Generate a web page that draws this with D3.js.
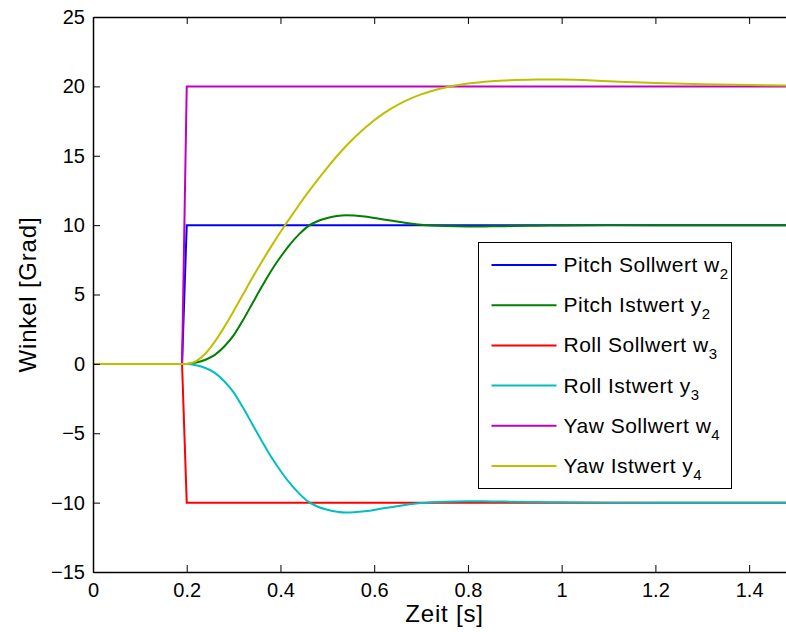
<!DOCTYPE html>
<html>
<head>
<meta charset="utf-8">
<script src="https://cdn.jsdelivr.net/npm/d3@7"></script>
<style>
  body { margin: 0; background: #fff; }
  text { font-family: "Liberation Sans", Arial, Helvetica, sans-serif; fill: #000; }
</style>
</head>
<body>
<div class="container"></div>
<script>
var margin = {top: 17, right: -10, bottom: 60, left: 93}
    , width = 786 - margin.left - margin.right
    , height = 632 - margin.top - margin.bottom;

// DATA
// step setpoints (Sollwerte)
var stepTime = [0, 0.19, 0.2, 1.5]
var w2 = [0, 0, 10, 10]
var w3 = [0, 0, -10, -10]
var w4 = [0, 0, 20, 20]

// responses (Istwerte)
var respTime = [0, 0.2, 0.22, 0.24, 0.26, 0.28, 0.30, 0.32, 0.34, 0.36, 0.38, 0.40, 0.42, 0.44, 0.46, 0.48, 0.50,
                0.54, 0.58, 0.62, 0.66, 0.70, 0.75, 0.80, 0.85, 0.90, 0.95, 1.0, 1.1, 1.2, 1.3, 1.4, 1.5]
var y2 = [0, 0, 0.1, 0.3, 0.65, 1.25, 2.05, 3.15, 4.35, 5.55, 6.7, 7.7, 8.6, 9.35, 9.95, 10.3, 10.52,
          10.72, 10.62, 10.4, 10.2, 10.03, 9.93, 9.9, 9.91, 9.94, 9.96, 9.98, 10.0, 10.0, 10.0, 10.0, 10.0]
var y3 = [0, 0, -0.1, -0.3, -0.65, -1.25, -2.05, -3.15, -4.35, -5.55, -6.7, -7.7, -8.6, -9.35, -9.95, -10.3, -10.52,
          -10.72, -10.62, -10.4, -10.2, -10.03, -9.93, -9.9, -9.91, -9.94, -9.96, -9.98, -10.0, -10.0, -10.0, -10.0, -10.0]
var y4 = [0, 0, 0.2, 0.75, 1.6, 2.65, 3.8, 5.0, 6.2, 7.35, 8.45, 9.5, 10.5, 11.47, 12.41, 13.3, 14.15,
          15.7, 17.0, 18.05, 18.85, 19.42, 19.9, 20.2, 20.37, 20.46, 20.5, 20.49, 20.37, 20.25, 20.16, 20.1, 20.06]

var seriesNames = ['Pitch Sollwert w', 'Pitch Istwert y', 'Roll Sollwert w', 'Roll Istwert y', 'Yaw Sollwert w', 'Yaw Istwert y']
var seriesSubs = ['2', '2', '3', '3', '4', '4']
var seriesColors = ['#0000ff', '#008000', '#ff0000', '#00bfbf', '#bf00bf', '#bfbf00']

var xTicks = [0, 0.2, 0.4, 0.6, 0.8, 1, 1.2, 1.4]
var yTicks = [-15, -10, -5, 0, 5, 10, 15, 20, 25]

// build series table
var series = [
    {t: stepTime, v: w2, smooth: false}
  , {t: respTime, v: y2, smooth: true}
  , {t: stepTime, v: w3, smooth: false}
  , {t: respTime, v: y3, smooth: true}
  , {t: stepTime, v: w4, smooth: false}
  , {t: respTime, v: y4, smooth: true}
]
series.forEach(function(s, i){
  s.name = seriesNames[i]
  s.sub = seriesSubs[i]
  s.color = seriesColors[i]
  s.points = s.t.map(function(t, j){ return [t, s.v[j]] })
})

// SCALES
var x = d3.scaleLinear().domain([0, 1.5]).range([0, width])
var y = d3.scaleLinear().domain([-15, 25]).range([height, 0])

var svg = d3.select('body div.container').append('svg')
    .attr('width', 786)
    .attr('height', 632)

var g = svg.append('g')
    .attr('transform', 'translate(' + margin.left + ',' + margin.top + ')')

g.append('clipPath').attr('id', 'clip')
  .append('rect').attr('width', width).attr('height', height)

// LINES
var lineSharp = d3.line()
    .x(function(d){ return x(d[0]) })
    .y(function(d){ return y(d[1]) })
var lineSmooth = d3.line()
    .curve(d3.curveMonotoneX)
    .x(function(d){ return x(d[0]) })
    .y(function(d){ return y(d[1]) })

g.append('g').attr('clip-path', 'url(#clip)')
  .selectAll('path')
  .data(series)
  .enter().append('path')
    .attr('d', function(d){ return d.smooth ? lineSmooth(d.points) : lineSharp(d.points) })
    .attr('fill', 'none')
    .attr('stroke', function(d){ return d.color })
    .attr('stroke-width', 2)

// AXES
var fmt = d3.format('~g')

var xAxis = g.append('g')
    .attr('transform', 'translate(0,' + height + ')')
    .call(d3.axisBottom(x).tickValues(xTicks).tickFormat(fmt).tickSizeInner(-7).tickSizeOuter(0).tickPadding(11))
var yAxis = g.append('g')
    .call(d3.axisLeft(y).tickValues(yTicks).tickFormat(fmt).tickSizeInner(-7).tickSizeOuter(0).tickPadding(8))
var topAxis = g.append('g')
    .call(d3.axisTop(x).tickValues(xTicks).tickFormat('').tickSizeInner(-7).tickSizeOuter(0))

g.selectAll('.domain').attr('stroke', '#000').attr('stroke-width', 1.5)
g.selectAll('.tick line').attr('stroke', '#000').attr('stroke-width', 1)
g.selectAll('.tick text')
    .attr('fill', '#000')
    .style('font-size', '20px')
    .style('font-family', '"Liberation Sans", Arial, sans-serif')

// AXIS LABELS
g.append('text')
    .attr('x', width / 2)
    .attr('y', height + 50)
    .attr('text-anchor', 'middle')
    .style('font-size', '24px')
    .style('letter-spacing', '0.8px')
    .text('Zeit [s]')

g.append('text')
    .attr('transform', 'translate(' + (-57) + ',' + (height / 2) + ') rotate(-90)')
    .attr('text-anchor', 'middle')
    .style('font-size', '24px')
    .style('letter-spacing', '0.8px')
    .text('Winkel [Grad]')

// LEGEND
var legend = svg.append('g')
    .attr('class', 'legend')
    .attr('transform', 'translate(478.5,242.5)')

legend.append('rect')
    .attr('width', 253)
    .attr('height', 246)
    .attr('fill', '#fff')
    .attr('stroke', '#000')
    .attr('stroke-width', 1)

var rows = legend.selectAll('g.row')
    .data(series)
    .enter().append('g')
      .attr('class', 'row')
      .attr('transform', function(d, i){ return 'translate(0,' + (22.5 + i * 40.2) + ')' })

rows.append('line')
    .attr('x1', 13)
    .attr('x2', 78)
    .attr('stroke', function(d){ return d.color })
    .attr('stroke-width', 2)

var labels = rows.append('text')
    .attr('x', 85)
    .attr('y', 7)
    .style('font-size', '21px')
    .style('letter-spacing', '0.5px')
labels.append('tspan').text(function(d){ return d.name })
labels.append('tspan')
    .attr('dy', 7)
    .style('font-size', '15px')
    .text(function(d){ return d.sub })
</script>
</body>
</html>
